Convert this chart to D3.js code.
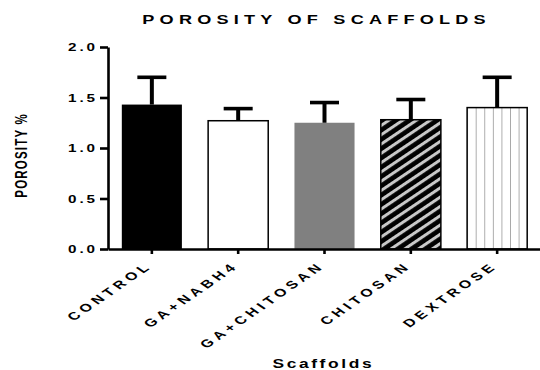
<!DOCTYPE html>
<html>
<head>
<meta charset="utf-8">
<script src="https://cdn.jsdelivr.net/npm/d3@7"></script>
<style>
  body { margin: 0; background: #fff; }
  text { font-family: "Liberation Sans", Arial, sans-serif; fill: #000; }
</style>
</head>
<body>
<svg id="chart" width="540" height="370"></svg>
<script>
// Porosity (%) of each scaffold, mean with upper SD bar
const categories = ["CONTROL", "GA+NABH4", "GA+CHITOSAN", "CHITOSAN", "DEXTROSE"];
const porosity = [1.43, 1.27, 1.25, 1.28, 1.40];
const porositySD = [0.27, 0.12, 0.20, 0.20, 0.30];
const yTicks = [0, 0.5, 1.0, 1.5, 2.0];
const yTickLabels = ["0.0", "0.5", "1.0", "1.5", "2.0"];

const svg = d3.select("#chart");
const plotLeft = 108, plotRight = 541, plotBottom = 249, plotTop = 47;
const SX = 1.45;   // horizontal widening applied to all lettering

const x = d3.scaleBand().domain(categories).range([plotLeft, plotRight])
  .paddingInner(0.304).paddingOuter(0.16);
const y = d3.scaleLinear().domain([0, 2]).range([plotBottom, plotTop]);
const bw = x.bandwidth();

// fill patterns
const defs = svg.append("defs");
const diag = defs.append("pattern").attr("id", "diag")
  .attr("patternUnits", "userSpaceOnUse")
  .attr("width", 12).attr("height", 7.7)
  .attr("patternTransform", "rotate(-34)");
diag.append("rect").attr("width", 12).attr("height", 7.7).attr("fill", "#000");
diag.append("rect").attr("width", 12).attr("height", 3).attr("fill", "#c8c8c8");

const vgap = bw / 7;
const vert = defs.append("pattern").attr("id", "vert")
  .attr("patternUnits", "userSpaceOnUse")
  .attr("x", x("DEXTROSE")).attr("y", 0)
  .attr("width", vgap).attr("height", 10);
vert.append("rect").attr("width", vgap).attr("height", 10).attr("fill", "#fff");
vert.append("line").attr("x1", 0).attr("x2", 0).attr("y1", 0).attr("y2", 10)
  .attr("stroke", "#8a8a8a").attr("stroke-width", 1.4);

const barStyle = {
  "CONTROL":     { fill: "#000",        stroke: "#000",  sw: 0 },
  "GA+NABH4":    { fill: "#fff",        stroke: "#000",  sw: 1.5 },
  "GA+CHITOSAN": { fill: "#808080",     stroke: "none",  sw: 0 },
  "CHITOSAN":    { fill: "url(#diag)",  stroke: "#000",  sw: 1.5 },
  "DEXTROSE":    { fill: "url(#vert)",  stroke: "#000",  sw: 1.5 }
};

const rows = categories.map((c, i) => ({ c, v: porosity[i], sd: porositySD[i] }));

// bars
svg.append("g").selectAll("rect").data(rows).join("rect")
  .attr("x", d => x(d.c))
  .attr("y", d => y(d.v))
  .attr("width", bw)
  .attr("height", d => y(0) - y(d.v))
  .attr("fill", d => barStyle[d.c].fill)
  .attr("stroke", d => barStyle[d.c].stroke)
  .attr("stroke-width", d => barStyle[d.c].sw);

// error bars (upper only)
const eb = svg.append("g").attr("stroke", "#000");
eb.selectAll("line.stem").data(rows).join("line").attr("class", "stem")
  .attr("x1", d => x(d.c) + bw / 2).attr("x2", d => x(d.c) + bw / 2)
  .attr("y1", d => y(d.v)).attr("y2", d => y(d.v + d.sd))
  .attr("stroke-width", 4);
eb.selectAll("line.cap").data(rows).join("line").attr("class", "cap")
  .attr("x1", d => x(d.c) + bw / 2 - 14.5).attr("x2", d => x(d.c) + bw / 2 + 14.5)
  .attr("y1", d => y(d.v + d.sd)).attr("y2", d => y(d.v + d.sd))
  .attr("stroke-width", 3.6);

// y axis
const yAxis = svg.append("g").attr("transform", `translate(${plotLeft},0)`)
  .call(d3.axisLeft(y).tickValues(yTicks).tickSize(8).tickSizeOuter(0)
    .tickFormat((d, i) => yTickLabels[i]));
yAxis.select(".domain").attr("stroke-width", 2.6);
yAxis.selectAll(".tick line").attr("stroke-width", 2.6);
yAxis.selectAll(".tick text")
  .attr("x", null).attr("dy", null)
  .attr("fill", "#000")
  .attr("transform", `translate(-13,3.8) scale(${SX},1)`)
  .attr("dx", 2)
  .style("font-size", "10.5px").style("font-weight", "bold")
  .style("letter-spacing", "2px");

// x axis
const xAxis = svg.append("g").attr("transform", `translate(0,${plotBottom})`)
  .call(d3.axisBottom(x).tickSize(5).tickSizeOuter(0));
xAxis.select(".domain").attr("stroke-width", 2.6);
xAxis.selectAll(".tick line").attr("stroke-width", 2.6);
xAxis.selectAll(".tick text")
  .attr("y", null).attr("dy", null)
  .attr("fill", "#000")
  .attr("text-anchor", "end")
  .attr("transform", `translate(-2,20) scale(${SX},1) rotate(-45)`)
  .attr("dx", 3.3)
  .style("font-size", "11px").style("font-weight", "bold")
  .style("letter-spacing", "3.3px");

// title and axis titles
svg.append("text")
  .attr("fill", "#000")
  .attr("transform", `translate(314,24) scale(${SX},1)`)
  .attr("text-anchor", "middle").attr("dx", 1.8)
  .style("font-size", "12.5px").style("font-weight", "bold")
  .style("letter-spacing", "3.6px")
  .text("POROSITY OF SCAFFOLDS");

svg.append("text")
  .attr("fill", "#000")
  .attr("transform", `translate(322,368) scale(${SX},1)`)
  .attr("text-anchor", "middle").attr("dx", 0.9)
  .style("font-size", "12px").style("font-weight", "bold")
  .style("letter-spacing", "1.8px")
  .text("Scaffolds");

svg.append("text")
  .attr("fill", "#000")
  .attr("transform", `translate(27,156) scale(${SX},1) rotate(-90)`)
  .attr("text-anchor", "middle").attr("dx", 0.6)
  .style("font-size", "11.5px").style("font-weight", "bold")
  .style("letter-spacing", "1.2px")
  .text("POROSITY %");
</script>
</body>
</html>
